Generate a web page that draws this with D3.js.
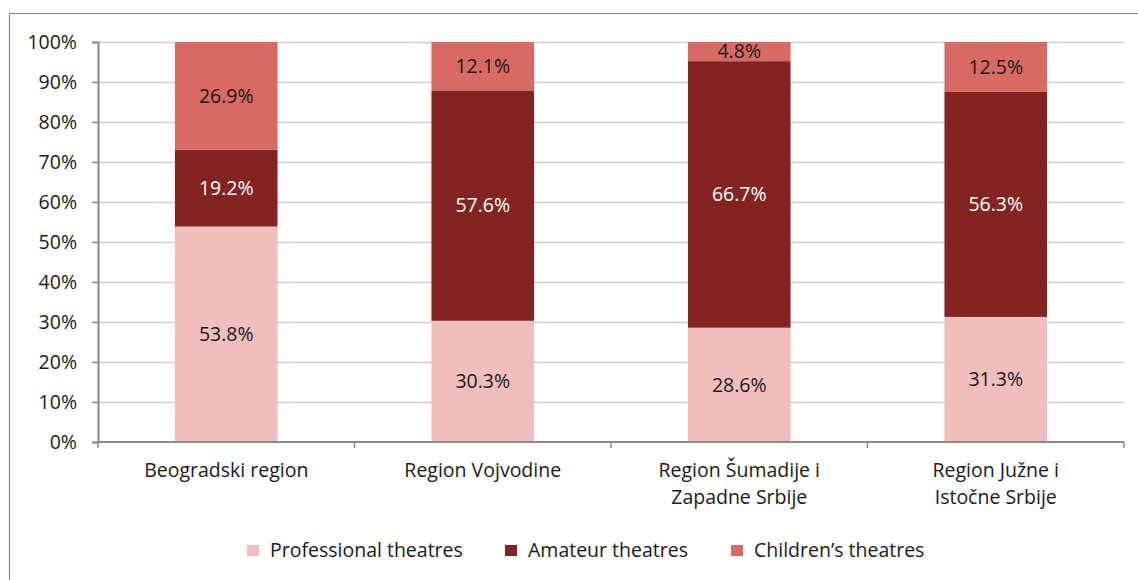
<!DOCTYPE html>
<html>
<head>
<meta charset="utf-8">
<script src="https://cdn.jsdelivr.net/npm/d3@7"></script>
<style>
  body { margin: 0; background: #fff; }
  text { font-family: "Open Sans", Lato, sans-serif; }
</style>
</head>
<body>
<svg id="chart" width="1138" height="580"></svg>
<script>
// categories and series (percent)
var regions = [
    ["Beogradski region"],
    ["Region Vojvodine"],
    ["Region Šumadije i", "Zapadne Srbije"],
    ["Region Južne i", "Istočne Srbije"]
];
var seriesNames = ["Professional theatres", "Amateur theatres", "Children\u2019s theatres"];
var professional = [53.8, 30.3, 28.6, 31.3];
var amateur = [19.2, 57.6, 66.7, 56.3];
var children = [26.9, 12.1, 4.8, 12.5];
var yTicks = [0, 10, 20, 30, 40, 50, 60, 70, 80, 90, 100];

var colours = ["#F0BFBD", "#842421", "#D86A64"];
var labelColours = ["#1a1a1a", "#ffffff", "#1a1a1a"];
var fontSize = 19.5;

var svg = d3.select("#chart");

// outer frame (only top and left are visible in the picture)
svg.append("rect")
    .attr("x", 9.5).attr("y", 13.5)
    .attr("width", 1140).attr("height", 600)
    .attr("fill", "none").attr("stroke", "#8c8c8c").attr("stroke-width", 1.2);

var plotLeft = 98, plotRight = 1124, plotTop = 42, plotBottom = 442;

var x = d3.scaleBand()
    .domain(d3.range(regions.length))
    .range([plotLeft, plotRight])
    .paddingInner(0.6)
    .paddingOuter(0.3);

var y = d3.scaleLinear().domain([0, 100]).range([plotBottom, plotTop]);

// build stacked table, normalised to 100%
var table = regions.map(function (r, i) {
    var tot = professional[i] + amateur[i] + children[i];
    return {
        i: i,
        s0: professional[i] / tot * 100,
        s1: amateur[i] / tot * 100,
        s2: children[i] / tot * 100,
        v: [professional[i], amateur[i], children[i]]
    };
});
var stack = d3.stack().keys(["s0", "s1", "s2"])(table);

// gridlines
svg.append("g")
    .selectAll("line")
    .data(yTicks.filter(function (d) { return d > 0; }))
    .enter().append("line")
    .attr("x1", plotLeft).attr("x2", plotRight)
    .attr("y1", function (d) { return y(d) + 0.5; })
    .attr("y2", function (d) { return y(d) + 0.5; })
    .attr("stroke", "#cfcfcf").attr("stroke-width", 1.3);

// bars
var layers = svg.append("g").selectAll("g")
    .data(stack)
    .enter().append("g")
    .attr("fill", function (d, k) { return colours[k]; });

layers.selectAll("rect")
    .data(function (d) { return d; })
    .enter().append("rect")
    .attr("x", function (d) { return x(d.data.i); })
    .attr("width", x.bandwidth())
    .attr("y", function (d) { return y(d[1]); })
    .attr("height", function (d) { return y(d[0]) - y(d[1]); });

// value labels
stack.forEach(function (layer, k) {
    svg.append("g").selectAll("text")
        .data(layer)
        .enter().append("text")
        .attr("x", function (d) { return x(d.data.i) + x.bandwidth() / 2; })
        .attr("y", function (d) { return (y(d[0]) + y(d[1])) / 2; })
        .attr("dy", "0.35em")
        .attr("text-anchor", "middle")
        .attr("font-size", fontSize)
        .attr("fill", labelColours[k])
        .text(function (d) { return d.data.v[k].toFixed(1) + "%"; });
});

// y axis
var yAxis = svg.append("g")
    .attr("transform", "translate(" + plotLeft + ",0)")
    .call(d3.axisLeft(y).tickValues(yTicks).tickSize(6).tickPadding(15)
        .tickFormat(function (d) { return d + "%"; }));
yAxis.select(".domain").attr("stroke", "#8a8a8a").attr("stroke-width", 2);
yAxis.selectAll(".tick line").attr("stroke", "#8a8a8a").attr("stroke-width", 1.5);
yAxis.selectAll(".tick text").attr("font-size", fontSize).attr("fill", "#1a1a1a")
    .attr("font-family", "'Open Sans', Lato, sans-serif");

// x axis line with category boundary ticks
var bounds = d3.range(regions.length + 1).map(function (i) {
    return plotLeft + (plotRight - plotLeft) * i / regions.length;
});
svg.append("line")
    .attr("x1", plotLeft).attr("x2", plotRight)
    .attr("y1", plotBottom).attr("y2", plotBottom)
    .attr("stroke", "#8a8a8a").attr("stroke-width", 2);
svg.append("g").selectAll("line")
    .data(bounds)
    .enter().append("line")
    .attr("x1", function (d) { return d; }).attr("x2", function (d) { return d; })
    .attr("y1", plotBottom).attr("y2", plotBottom + 6)
    .attr("stroke", "#8a8a8a").attr("stroke-width", 1.5);

// category labels
svg.append("g").selectAll("text")
    .data(regions)
    .enter().append("text")
    .attr("text-anchor", "middle")
    .attr("font-size", fontSize)
    .attr("fill", "#1a1a1a")
    .attr("x", function (d, i) { return x(i) + x.bandwidth() / 2; })
    .attr("y", 477)
    .each(function (d) {
        var t = d3.select(this);
        d.forEach(function (line, j) {
            t.append("tspan")
                .attr("x", t.attr("x"))
                .attr("dy", j === 0 ? 0 : 27)
                .text(line);
        });
    });

// legend
var legendX = [247, 505, 731];
var legend = svg.append("g").selectAll("g")
    .data(seriesNames)
    .enter().append("g")
    .attr("transform", function (d, i) { return "translate(" + legendX[i] + ",545)"; });
legend.append("rect")
    .attr("width", 12).attr("height", 11)
    .attr("fill", function (d, i) { return colours[i]; });
legend.append("text")
    .attr("x", 23).attr("y", 5.5).attr("dy", "0.35em")
    .attr("font-size", fontSize).attr("fill", "#1a1a1a")
    .text(function (d) { return d; });
</script>
</body>
</html>
